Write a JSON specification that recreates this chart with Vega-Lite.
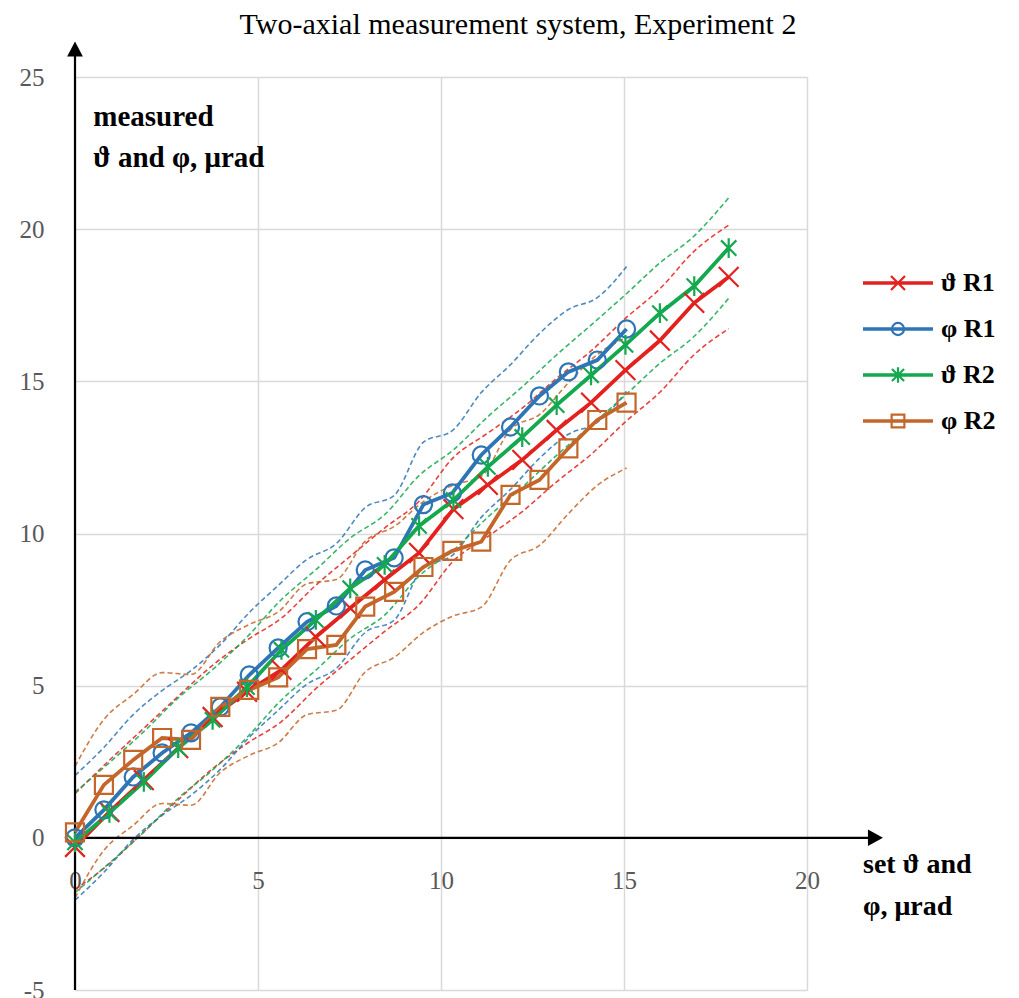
{
  "$schema": "https://vega.github.io/schema/vega-lite/v6.json",
  "width": 732,
  "height": 913,
  "autosize": {"type": "none"},
  "padding": {"left": 75, "top": 77, "right": 212, "bottom": 8},
  "background": "white",
  "title": {"text": "Two-axial measurement system, Experiment 2", "font": "Liberation Serif", "fontSize": 30, "fontWeight": "normal", "color": "#000000", "anchor": "middle", "dx": 77, "offset": 2},
  "config": {"view": {"stroke": null}},
  "datasets": {
    "main": [
      {"s": "ϑ R1", "x": 0, "y": -0.3}, {"s": "ϑ R1", "x": 0.94, "y": 0.85}, {"s": "ϑ R1", "x": 1.88, "y": 1.9}, {"s": "ϑ R1", "x": 2.82, "y": 2.95}, {"s": "ϑ R1", "x": 3.76, "y": 3.97}, {"s": "ϑ R1", "x": 4.7, "y": 4.8}, {"s": "ϑ R1", "x": 5.64, "y": 5.52}, {"s": "ϑ R1", "x": 6.58, "y": 6.6}, {"s": "ϑ R1", "x": 7.52, "y": 7.55}, {"s": "ϑ R1", "x": 8.46, "y": 8.48}, {"s": "ϑ R1", "x": 9.4, "y": 9.36}, {"s": "ϑ R1", "x": 10.34, "y": 10.8}, {"s": "ϑ R1", "x": 11.28, "y": 11.6}, {"s": "ϑ R1", "x": 12.22, "y": 12.42}, {"s": "ϑ R1", "x": 13.16, "y": 13.4}, {"s": "ϑ R1", "x": 14.1, "y": 14.3}, {"s": "ϑ R1", "x": 15.04, "y": 15.37}, {"s": "ϑ R1", "x": 15.98, "y": 16.34}, {"s": "ϑ R1", "x": 16.92, "y": 17.58}, {"s": "ϑ R1", "x": 17.86, "y": 18.43},
      {"s": "φ R1", "x": 0, "y": 0}, {"s": "φ R1", "x": 0.79, "y": 0.92}, {"s": "φ R1", "x": 1.59, "y": 2.0}, {"s": "φ R1", "x": 2.38, "y": 2.79}, {"s": "φ R1", "x": 3.17, "y": 3.45}, {"s": "φ R1", "x": 3.97, "y": 4.3}, {"s": "φ R1", "x": 4.76, "y": 5.35}, {"s": "φ R1", "x": 5.55, "y": 6.24}, {"s": "φ R1", "x": 6.34, "y": 7.1}, {"s": "φ R1", "x": 7.14, "y": 7.62}, {"s": "φ R1", "x": 7.93, "y": 8.8}, {"s": "φ R1", "x": 8.72, "y": 9.2}, {"s": "φ R1", "x": 9.52, "y": 10.95}, {"s": "φ R1", "x": 10.31, "y": 11.33}, {"s": "φ R1", "x": 11.1, "y": 12.58}, {"s": "φ R1", "x": 11.9, "y": 13.5}, {"s": "φ R1", "x": 12.69, "y": 14.52}, {"s": "φ R1", "x": 13.48, "y": 15.31}, {"s": "φ R1", "x": 14.27, "y": 15.7}, {"s": "φ R1", "x": 15.07, "y": 16.72},
      {"s": "ϑ R2", "x": 0, "y": -0.15}, {"s": "ϑ R2", "x": 0.94, "y": 0.82}, {"s": "ϑ R2", "x": 1.88, "y": 1.84}, {"s": "ϑ R2", "x": 2.82, "y": 2.95}, {"s": "ϑ R2", "x": 3.76, "y": 3.88}, {"s": "ϑ R2", "x": 4.7, "y": 4.95}, {"s": "ϑ R2", "x": 5.64, "y": 6.18}, {"s": "ϑ R2", "x": 6.58, "y": 7.16}, {"s": "ϑ R2", "x": 7.52, "y": 8.2}, {"s": "ϑ R2", "x": 8.46, "y": 8.97}, {"s": "ϑ R2", "x": 9.4, "y": 10.25}, {"s": "ϑ R2", "x": 10.34, "y": 11.1}, {"s": "ϑ R2", "x": 11.28, "y": 12.19}, {"s": "ϑ R2", "x": 12.22, "y": 13.17}, {"s": "ϑ R2", "x": 13.16, "y": 14.22}, {"s": "ϑ R2", "x": 14.1, "y": 15.2}, {"s": "ϑ R2", "x": 15.04, "y": 16.2}, {"s": "ϑ R2", "x": 15.98, "y": 17.24}, {"s": "ϑ R2", "x": 16.92, "y": 18.13}, {"s": "ϑ R2", "x": 17.86, "y": 19.38},
      {"s": "φ R2", "x": 0, "y": 0.18}, {"s": "φ R2", "x": 0.79, "y": 1.74}, {"s": "φ R2", "x": 1.59, "y": 2.56}, {"s": "φ R2", "x": 2.38, "y": 3.28}, {"s": "φ R2", "x": 3.17, "y": 3.22}, {"s": "φ R2", "x": 3.97, "y": 4.3}, {"s": "φ R2", "x": 4.76, "y": 4.86}, {"s": "φ R2", "x": 5.55, "y": 5.27}, {"s": "φ R2", "x": 6.34, "y": 6.2}, {"s": "φ R2", "x": 7.14, "y": 6.34}, {"s": "φ R2", "x": 7.93, "y": 7.6}, {"s": "φ R2", "x": 8.72, "y": 8.08}, {"s": "φ R2", "x": 9.52, "y": 8.9}, {"s": "φ R2", "x": 10.31, "y": 9.43}, {"s": "φ R2", "x": 11.1, "y": 9.73}, {"s": "φ R2", "x": 11.9, "y": 11.27}, {"s": "φ R2", "x": 12.69, "y": 11.76}, {"s": "φ R2", "x": 13.48, "y": 12.8}, {"s": "φ R2", "x": 14.27, "y": 13.73}, {"s": "φ R2", "x": 15.07, "y": 14.3}
    ],
    "bands": [
      {"s": "ϑ R1", "b": "upper", "x": 0, "y": 1.45}, {"s": "ϑ R1", "b": "upper", "x": 0.94, "y": 2.55}, {"s": "ϑ R1", "b": "upper", "x": 1.88, "y": 3.6}, {"s": "ϑ R1", "b": "upper", "x": 2.82, "y": 4.65}, {"s": "ϑ R1", "b": "upper", "x": 3.76, "y": 5.67}, {"s": "ϑ R1", "b": "upper", "x": 4.7, "y": 6.5}, {"s": "ϑ R1", "b": "upper", "x": 5.64, "y": 7.22}, {"s": "ϑ R1", "b": "upper", "x": 6.58, "y": 8.3}, {"s": "ϑ R1", "b": "upper", "x": 7.52, "y": 9.25}, {"s": "ϑ R1", "b": "upper", "x": 8.46, "y": 10.18}, {"s": "ϑ R1", "b": "upper", "x": 9.4, "y": 11.06}, {"s": "ϑ R1", "b": "upper", "x": 10.34, "y": 12.5}, {"s": "ϑ R1", "b": "upper", "x": 11.28, "y": 13.3}, {"s": "ϑ R1", "b": "upper", "x": 12.22, "y": 14.12}, {"s": "ϑ R1", "b": "upper", "x": 13.16, "y": 15.1}, {"s": "ϑ R1", "b": "upper", "x": 14.1, "y": 16.0}, {"s": "ϑ R1", "b": "upper", "x": 15.04, "y": 17.07}, {"s": "ϑ R1", "b": "upper", "x": 15.98, "y": 18.04}, {"s": "ϑ R1", "b": "upper", "x": 16.92, "y": 19.28}, {"s": "ϑ R1", "b": "upper", "x": 17.86, "y": 20.13},
      {"s": "ϑ R1", "b": "lower", "x": 0, "y": -1.7}, {"s": "ϑ R1", "b": "lower", "x": 0.94, "y": -0.85}, {"s": "ϑ R1", "b": "lower", "x": 1.88, "y": 0.2}, {"s": "ϑ R1", "b": "lower", "x": 2.82, "y": 1.25}, {"s": "ϑ R1", "b": "lower", "x": 3.76, "y": 2.27}, {"s": "ϑ R1", "b": "lower", "x": 4.7, "y": 3.1}, {"s": "ϑ R1", "b": "lower", "x": 5.64, "y": 3.82}, {"s": "ϑ R1", "b": "lower", "x": 6.58, "y": 4.9}, {"s": "ϑ R1", "b": "lower", "x": 7.52, "y": 5.85}, {"s": "ϑ R1", "b": "lower", "x": 8.46, "y": 6.78}, {"s": "ϑ R1", "b": "lower", "x": 9.4, "y": 7.66}, {"s": "ϑ R1", "b": "lower", "x": 10.34, "y": 9.1}, {"s": "ϑ R1", "b": "lower", "x": 11.28, "y": 9.9}, {"s": "ϑ R1", "b": "lower", "x": 12.22, "y": 10.72}, {"s": "ϑ R1", "b": "lower", "x": 13.16, "y": 11.7}, {"s": "ϑ R1", "b": "lower", "x": 14.1, "y": 12.6}, {"s": "ϑ R1", "b": "lower", "x": 15.04, "y": 13.67}, {"s": "ϑ R1", "b": "lower", "x": 15.98, "y": 14.64}, {"s": "ϑ R1", "b": "lower", "x": 16.92, "y": 15.88}, {"s": "ϑ R1", "b": "lower", "x": 17.86, "y": 16.73},
      {"s": "φ R1", "b": "upper", "x": 0, "y": 2.05}, {"s": "φ R1", "b": "upper", "x": 0.79, "y": 2.97}, {"s": "φ R1", "b": "upper", "x": 1.59, "y": 4.05}, {"s": "φ R1", "b": "upper", "x": 2.38, "y": 4.84}, {"s": "φ R1", "b": "upper", "x": 3.17, "y": 5.5}, {"s": "φ R1", "b": "upper", "x": 3.97, "y": 6.35}, {"s": "φ R1", "b": "upper", "x": 4.76, "y": 7.4}, {"s": "φ R1", "b": "upper", "x": 5.55, "y": 8.29}, {"s": "φ R1", "b": "upper", "x": 6.34, "y": 9.15}, {"s": "φ R1", "b": "upper", "x": 7.14, "y": 9.67}, {"s": "φ R1", "b": "upper", "x": 7.93, "y": 10.85}, {"s": "φ R1", "b": "upper", "x": 8.72, "y": 11.25}, {"s": "φ R1", "b": "upper", "x": 9.52, "y": 13.0}, {"s": "φ R1", "b": "upper", "x": 10.31, "y": 13.38}, {"s": "φ R1", "b": "upper", "x": 11.1, "y": 14.63}, {"s": "φ R1", "b": "upper", "x": 11.9, "y": 15.55}, {"s": "φ R1", "b": "upper", "x": 12.69, "y": 16.57}, {"s": "φ R1", "b": "upper", "x": 13.48, "y": 17.36}, {"s": "φ R1", "b": "upper", "x": 14.27, "y": 17.75}, {"s": "φ R1", "b": "upper", "x": 15.07, "y": 18.77},
      {"s": "φ R1", "b": "lower", "x": 0, "y": -2.05}, {"s": "φ R1", "b": "lower", "x": 0.79, "y": -1.13}, {"s": "φ R1", "b": "lower", "x": 1.59, "y": -0.05}, {"s": "φ R1", "b": "lower", "x": 2.38, "y": 0.74}, {"s": "φ R1", "b": "lower", "x": 3.17, "y": 1.4}, {"s": "φ R1", "b": "lower", "x": 3.97, "y": 2.25}, {"s": "φ R1", "b": "lower", "x": 4.76, "y": 3.3}, {"s": "φ R1", "b": "lower", "x": 5.55, "y": 4.19}, {"s": "φ R1", "b": "lower", "x": 6.34, "y": 5.05}, {"s": "φ R1", "b": "lower", "x": 7.14, "y": 5.57}, {"s": "φ R1", "b": "lower", "x": 7.93, "y": 6.75}, {"s": "φ R1", "b": "lower", "x": 8.72, "y": 7.15}, {"s": "φ R1", "b": "lower", "x": 9.52, "y": 8.9}, {"s": "φ R1", "b": "lower", "x": 10.31, "y": 9.28}, {"s": "φ R1", "b": "lower", "x": 11.1, "y": 10.53}, {"s": "φ R1", "b": "lower", "x": 11.9, "y": 11.45}, {"s": "φ R1", "b": "lower", "x": 12.69, "y": 12.47}, {"s": "φ R1", "b": "lower", "x": 13.48, "y": 13.26}, {"s": "φ R1", "b": "lower", "x": 14.27, "y": 13.65}, {"s": "φ R1", "b": "lower", "x": 15.07, "y": 14.67},
      {"s": "ϑ R2", "b": "upper", "x": 0, "y": 1.5}, {"s": "ϑ R2", "b": "upper", "x": 0.94, "y": 2.47}, {"s": "ϑ R2", "b": "upper", "x": 1.88, "y": 3.49}, {"s": "ϑ R2", "b": "upper", "x": 2.82, "y": 4.6}, {"s": "ϑ R2", "b": "upper", "x": 3.76, "y": 5.53}, {"s": "ϑ R2", "b": "upper", "x": 4.7, "y": 6.6}, {"s": "ϑ R2", "b": "upper", "x": 5.64, "y": 7.83}, {"s": "ϑ R2", "b": "upper", "x": 6.58, "y": 8.81}, {"s": "ϑ R2", "b": "upper", "x": 7.52, "y": 9.85}, {"s": "ϑ R2", "b": "upper", "x": 8.46, "y": 10.62}, {"s": "ϑ R2", "b": "upper", "x": 9.4, "y": 11.9}, {"s": "ϑ R2", "b": "upper", "x": 10.34, "y": 12.75}, {"s": "ϑ R2", "b": "upper", "x": 11.28, "y": 13.84}, {"s": "ϑ R2", "b": "upper", "x": 12.22, "y": 14.82}, {"s": "ϑ R2", "b": "upper", "x": 13.16, "y": 15.87}, {"s": "ϑ R2", "b": "upper", "x": 14.1, "y": 16.85}, {"s": "ϑ R2", "b": "upper", "x": 15.04, "y": 17.85}, {"s": "ϑ R2", "b": "upper", "x": 15.98, "y": 18.89}, {"s": "ϑ R2", "b": "upper", "x": 16.92, "y": 19.78}, {"s": "ϑ R2", "b": "upper", "x": 17.86, "y": 21.03},
      {"s": "ϑ R2", "b": "lower", "x": 0, "y": -1.8}, {"s": "ϑ R2", "b": "lower", "x": 0.94, "y": -0.83}, {"s": "ϑ R2", "b": "lower", "x": 1.88, "y": 0.19}, {"s": "ϑ R2", "b": "lower", "x": 2.82, "y": 1.3}, {"s": "ϑ R2", "b": "lower", "x": 3.76, "y": 2.23}, {"s": "ϑ R2", "b": "lower", "x": 4.7, "y": 3.3}, {"s": "ϑ R2", "b": "lower", "x": 5.64, "y": 4.53}, {"s": "ϑ R2", "b": "lower", "x": 6.58, "y": 5.51}, {"s": "ϑ R2", "b": "lower", "x": 7.52, "y": 6.55}, {"s": "ϑ R2", "b": "lower", "x": 8.46, "y": 7.32}, {"s": "ϑ R2", "b": "lower", "x": 9.4, "y": 8.6}, {"s": "ϑ R2", "b": "lower", "x": 10.34, "y": 9.45}, {"s": "ϑ R2", "b": "lower", "x": 11.28, "y": 10.54}, {"s": "ϑ R2", "b": "lower", "x": 12.22, "y": 11.52}, {"s": "ϑ R2", "b": "lower", "x": 13.16, "y": 12.57}, {"s": "ϑ R2", "b": "lower", "x": 14.1, "y": 13.55}, {"s": "ϑ R2", "b": "lower", "x": 15.04, "y": 14.55}, {"s": "ϑ R2", "b": "lower", "x": 15.98, "y": 15.59}, {"s": "ϑ R2", "b": "lower", "x": 16.92, "y": 16.48}, {"s": "ϑ R2", "b": "lower", "x": 17.86, "y": 17.73},
      {"s": "φ R2", "b": "upper", "x": 0, "y": 2.35}, {"s": "φ R2", "b": "upper", "x": 0.79, "y": 3.89}, {"s": "φ R2", "b": "upper", "x": 1.59, "y": 4.71}, {"s": "φ R2", "b": "upper", "x": 2.38, "y": 5.43}, {"s": "φ R2", "b": "upper", "x": 3.17, "y": 5.37}, {"s": "φ R2", "b": "upper", "x": 3.97, "y": 6.45}, {"s": "φ R2", "b": "upper", "x": 4.76, "y": 7.01}, {"s": "φ R2", "b": "upper", "x": 5.55, "y": 7.42}, {"s": "φ R2", "b": "upper", "x": 6.34, "y": 8.35}, {"s": "φ R2", "b": "upper", "x": 7.14, "y": 8.49}, {"s": "φ R2", "b": "upper", "x": 7.93, "y": 9.75}, {"s": "φ R2", "b": "upper", "x": 8.72, "y": 10.23}, {"s": "φ R2", "b": "upper", "x": 9.52, "y": 11.05}, {"s": "φ R2", "b": "upper", "x": 10.31, "y": 11.58}, {"s": "φ R2", "b": "upper", "x": 11.1, "y": 11.88}, {"s": "φ R2", "b": "upper", "x": 11.9, "y": 13.42}, {"s": "φ R2", "b": "upper", "x": 12.69, "y": 13.91}, {"s": "φ R2", "b": "upper", "x": 13.48, "y": 14.95}, {"s": "φ R2", "b": "upper", "x": 14.27, "y": 15.88}, {"s": "φ R2", "b": "upper", "x": 15.07, "y": 16.45},
      {"s": "φ R2", "b": "lower", "x": 0, "y": -1.97}, {"s": "φ R2", "b": "lower", "x": 0.79, "y": -0.41}, {"s": "φ R2", "b": "lower", "x": 1.59, "y": 0.41}, {"s": "φ R2", "b": "lower", "x": 2.38, "y": 1.13}, {"s": "φ R2", "b": "lower", "x": 3.17, "y": 1.07}, {"s": "φ R2", "b": "lower", "x": 3.97, "y": 2.15}, {"s": "φ R2", "b": "lower", "x": 4.76, "y": 2.71}, {"s": "φ R2", "b": "lower", "x": 5.55, "y": 3.12}, {"s": "φ R2", "b": "lower", "x": 6.34, "y": 4.05}, {"s": "φ R2", "b": "lower", "x": 7.14, "y": 4.19}, {"s": "φ R2", "b": "lower", "x": 7.93, "y": 5.45}, {"s": "φ R2", "b": "lower", "x": 8.72, "y": 5.93}, {"s": "φ R2", "b": "lower", "x": 9.52, "y": 6.75}, {"s": "φ R2", "b": "lower", "x": 10.31, "y": 7.28}, {"s": "φ R2", "b": "lower", "x": 11.1, "y": 7.58}, {"s": "φ R2", "b": "lower", "x": 11.9, "y": 9.12}, {"s": "φ R2", "b": "lower", "x": 12.69, "y": 9.61}, {"s": "φ R2", "b": "lower", "x": 13.48, "y": 10.65}, {"s": "φ R2", "b": "lower", "x": 14.27, "y": 11.58}, {"s": "φ R2", "b": "lower", "x": 15.07, "y": 12.15}
    ]
  },
  "layer": [
    {
      "data": {"name": "bands"},
      "mark": {"type": "line", "strokeWidth": 1.6, "strokeDash": [5, 3], "interpolate": "monotone", "opacity": 0.85, "clip": false},
      "encoding": {
        "x": {"field": "x", "type": "quantitative", "scale": {"domain": [0, 20], "nice": false, "zero": false},
          "axis": {"title": null, "values": [0, 5, 10, 15, 20], "offset": -152, "domain": false, "ticks": false, "grid": true, "gridColor": "#D9D9D9", "gridWidth": 1.5, "labelFont": "Liberation Serif", "labelFontSize": 25, "labelColor": "#595959", "labelPadding": 30, "labelFlush": false, "labelOverlap": false}},
        "y": {"field": "y", "type": "quantitative", "scale": {"domain": [-5, 25], "nice": false, "zero": false},
          "axis": {"title": null, "values": [-5, 0, 5, 10, 15, 20, 25], "domain": false, "ticks": false, "grid": true, "gridColor": "#D9D9D9", "gridWidth": 1.5, "labelFont": "Liberation Serif", "labelFontSize": 25, "labelColor": "#595959", "labelPadding": 31, "labelFlush": false, "labelOverlap": false, "labelExpr": "'' + datum.value"}},
        "color": {"field": "s", "type": "nominal", "scale": {"domain": ["ϑ R1", "φ R1", "ϑ R2", "φ R2"], "range": ["#E3211F", "#2E75B6", "#14A84F", "#C4662A"]}, "legend": null},
        "detail": {"field": "b", "type": "nominal"}
      }
    },
    {
      "data": {"values": [{}]},
      "mark": {"type": "rule", "color": "#000000", "strokeWidth": 2.2, "clip": false},
      "encoding": {"x": {"datum": 0}, "y": {"datum": -5}, "y2": {"datum": 25.75}}
    },
    {
      "data": {"values": [{}]},
      "mark": {"type": "rule", "color": "#000000", "strokeWidth": 2.2, "clip": false},
      "encoding": {"x": {"datum": 0}, "x2": {"datum": 21.7}, "y": {"datum": 0}}
    },
    {
      "data": {"values": [{}]},
      "mark": {"type": "point", "shape": "M1,0L-1,-1.1L-1,1.1Z", "size": 225, "filled": true, "color": "#000000", "opacity": 1, "clip": false},
      "encoding": {"x": {"datum": 21.87}, "y": {"datum": 0}}
    },
    {
      "data": {"values": [{}]},
      "mark": {"type": "point", "shape": "M0,-1L1.05,1L-1.05,1Z", "size": 225, "filled": true, "color": "#000000", "opacity": 1, "clip": false},
      "encoding": {"x": {"datum": 0}, "y": {"datum": 25.92}}
    },
    {
      "data": {"name": "main"},
      "mark": {"type": "line", "strokeWidth": 3.8, "clip": false},
      "encoding": {
        "x": {"field": "x", "type": "quantitative"},
        "y": {"field": "y", "type": "quantitative"},
        "color": {"field": "s", "type": "nominal", "scale": {"domain": ["ϑ R1", "φ R1", "ϑ R2", "φ R2"], "range": ["#E3211F", "#2E75B6", "#14A84F", "#C4662A"]}, "legend": null}
      }
    },
    {
      "data": {"name": "main"},
      "mark": {"type": "point", "filled": false, "strokeWidth": 2.2, "size": 324, "opacity": 1, "clip": false},
      "encoding": {
        "x": {"field": "x", "type": "quantitative"},
        "y": {"field": "y", "type": "quantitative"},
        "color": {"field": "s", "type": "nominal", "scale": {"domain": ["ϑ R1", "φ R1", "ϑ R2", "φ R2"], "range": ["#E3211F", "#2E75B6", "#14A84F", "#C4662A"]}, "legend": null},
        "shape": {"field": "s", "type": "nominal", "scale": {"domain": ["ϑ R1", "φ R1", "ϑ R2", "φ R2"], "range": ["M-1.1,-1.1L1.1,1.1M-1.1,1.1L1.1,-1.1", "M0.95,0A0.95,0.95,0,1,1,-0.95,0A0.95,0.95,0,1,1,0.95,0Z", "M0,-1.1V1.1M-0.85,-0.85L0.85,0.85M-0.85,0.85L0.85,-0.85", "M-1,-1H1V1H-1Z"]}, "legend": null}
      }
    },
    {
      "data": {"name": "main"},
      "transform": [{"filter": "false"}],
      "mark": {"type": "point", "filled": false, "strokeWidth": 2.2, "opacity": 1},
      "encoding": {
        "x": {"field": "x", "type": "quantitative"},
        "y": {"field": "y", "type": "quantitative"},
        "color": {"field": "s", "type": "nominal", "scale": {"domain": ["ϑ R1", "φ R1", "ϑ R2", "φ R2"], "range": ["#E3211F", "#2E75B6", "#14A84F", "#C4662A"]},
          "legend": {"title": null, "orient": "none", "legendX": 790, "legendY": 173, "symbolSize": 4050, "symbolStrokeWidth": 2.2, "labelFont": "Liberation Serif", "labelFontSize": 26, "labelFontWeight": "bold", "labelColor": "#000000", "labelOffset": 10, "rowPadding": 0}},
        "shape": {"field": "s", "type": "nominal", "scale": {"domain": ["ϑ R1", "φ R1", "ϑ R2", "φ R2"], "range": ["M-1.1,-0.024H1.1M-1.1,0.024H1.1M-0.22,-0.22L0.22,0.22M-0.22,0.22L0.22,-0.22", "M-1.1,-0.024H1.1M-1.1,0.024H1.1M0.19,0A0.19,0.19,0,1,1,-0.19,0A0.19,0.19,0,1,1,0.19,0Z", "M-1.1,-0.024H1.1M-1.1,0.024H1.1M0,-0.24V0.24M-0.19,-0.19L0.19,0.19M-0.19,0.19L0.19,-0.19", "M-1.1,-0.024H1.1M-1.1,0.024H1.1M-0.2,-0.2H0.2V0.2H-0.2Z"]},
          "legend": {"title": null, "orient": "none", "legendX": 790, "legendY": 173, "symbolSize": 4050, "symbolStrokeWidth": 2.2, "labelFont": "Liberation Serif", "labelFontSize": 26, "labelFontWeight": "bold", "labelColor": "#000000", "labelOffset": 10, "rowPadding": 0}}
      }
    },
    {
      "data": {"values": [{}]},
      "mark": {"type": "text", "text": "measured", "align": "left", "baseline": "middle", "font": "Liberation Serif", "fontSize": 29, "fontWeight": "bold", "color": "#000000", "clip": false},
      "encoding": {"x": {"datum": 0.5}, "y": {"datum": 23.7}}
    },
    {
      "data": {"values": [{}]},
      "mark": {"type": "text", "text": "ϑ and φ, μrad", "align": "left", "baseline": "middle", "font": "Liberation Serif", "fontSize": 29, "fontWeight": "bold", "color": "#000000", "clip": false},
      "encoding": {"x": {"datum": 0.5}, "y": {"datum": 22.35}}
    },
    {
      "data": {"values": [{}]},
      "mark": {"type": "text", "text": "set ϑ and", "align": "left", "baseline": "middle", "font": "Liberation Serif", "fontSize": 28, "fontWeight": "bold", "color": "#000000", "clip": false},
      "encoding": {"x": {"datum": 21.53}, "y": {"datum": -0.89}}
    },
    {
      "data": {"values": [{}]},
      "mark": {"type": "text", "text": "φ, μrad", "align": "left", "baseline": "middle", "font": "Liberation Serif", "fontSize": 28, "fontWeight": "bold", "color": "#000000", "clip": false},
      "encoding": {"x": {"datum": 21.53}, "y": {"datum": -2.27}}
    }
  ],
  "resolve": {"scale": {"color": "independent", "shape": "independent"}}
}
